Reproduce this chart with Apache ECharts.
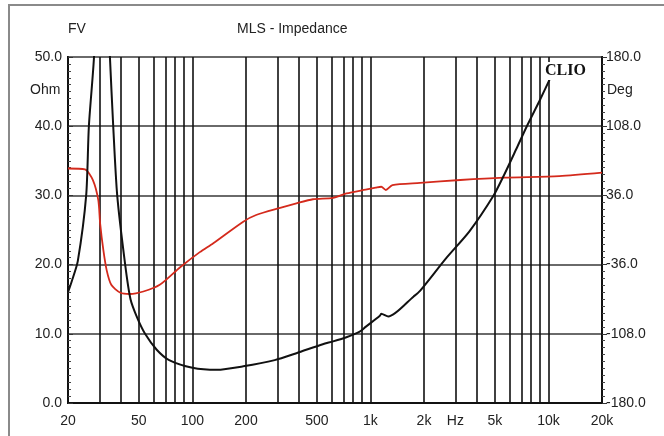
<!DOCTYPE html>
<html>
<head>
<meta charset="utf-8">
<script src="https://cdn.jsdelivr.net/npm/echarts@6/dist/echarts.min.js"></script>
<style>
html,body{margin:0;padding:0;background:#fff;}
#main{width:664px;height:436px;}
</style>
</head>
<body>
<div id="main"></div>
<script>
// impedance (Ohm) - black curve
var freqZ = [20, 21, 22.7, 25.3, 26.2, 28, 29.5, 31, 32.5, 34.4, 35.9, 37.8, 41.9, 44.9, 49, 54.2, 63, 74, 100, 137, 193, 290, 384, 540, 617, 733, 870, 940, 1130, 1150, 1260, 1750, 1900, 2680, 3600, 4900, 5600, 6600, 7600, 9000, 10400];
var impZ = [16, 17.6, 20.5, 30, 40, 50, 65, 72, 65, 50, 40, 30, 20, 15, 12.3, 10, 7.7, 6.2, 5.1, 4.8, 5.3, 6.2, 7.2, 8.5, 8.9, 9.5, 10.3, 11, 12.6, 12.9, 12.5, 15.4, 16.2, 21, 24.8, 29.9, 32.8, 36.7, 40.1, 43.9, 47.3];

// phase (Deg) - red curve
var freqP = [20, 24.9, 27.6, 29.6, 30.3, 31.6, 33.0, 35.0, 39.2, 44.5, 53, 65.5, 85, 110, 131, 193, 228, 311, 384, 475, 617, 733, 940, 1070, 1150, 1220, 1330, 1900, 3200, 5600, 11500, 20000];
var phaseP = [64, 63, 52, 31, 7, -21, -42, -57, -65, -66.6, -64, -57, -39, -23, -13.7, 8.7, 15.6, 23, 27.7, 32, 33.5, 38, 42, 44, 45, 41.6, 46.8, 49, 52, 54.4, 56, 59.6];

// grid / label frequencies
var gridFreqs = [30, 40, 50, 60, 70, 80, 90, 100, 200, 300, 400, 500, 600, 700, 800, 900, 1000, 2000, 3000, 4000, 5000, 6000, 7000, 8000, 9000, 10000];
var labelFreqs = [20, 50, 100, 200, 500, 1000, 2000, 3000, 5000, 10000, 20000];
var labelTexts = ['20', '50', '100', '200', '500', '1k', '2k', 'Hz', '5k', '10k', '20k'];

function lg(f){ return Math.log10(f); }
function pairs(xs, ys){
    var out = [];
    for(var i = 0; i < xs.length; i++){
        out.push([lg(xs[i]), ys[i]]);
    }
    return out;
}

var chart = echarts.init(document.getElementById('main'));
var font = 'Liberation Sans, Arial, sans-serif';

var option = {
    backgroundColor: '#fff',
    animation: false,
    grid: {left: 68, right: 62, top: 57, bottom: 33, show: true, borderColor: '#111', borderWidth: 2, backgroundColor: 'transparent'},
    xAxis: {
        type: 'value',
        min: lg(20),
        max: lg(20000),
        axisLine: {show: true, lineStyle: {color: '#111', width: 2}},
        axisTick: {show: false},
        splitLine: {show: false},
        axisLabel: {
            customValues: labelFreqs.map(lg),
            margin: 11,
            color: '#222',
            fontSize: 14,
            fontFamily: font,
            showMinLabel: true,
            showMaxLabel: true,
            formatter: function(v){
                var best = 0, d = 1e9;
                for(var i = 0; i < labelFreqs.length; i++){
                    var dd = Math.abs(lg(labelFreqs[i]) - v);
                    if(dd < d){ d = dd; best = i; }
                }
                return labelTexts[best];
            }
        }
    },
    yAxis: [
        {
            type: 'value', min: 0, max: 50, interval: 10, position: 'left',
            axisLine: {show: true, lineStyle: {color: '#111', width: 2}},
            axisTick: {show: true, inside: true, length: 5, lineStyle: {color: '#333'}},
            minorTick: {show: true, splitNumber: 10, length: 3, lineStyle: {color: '#444'}},
            splitLine: {show: true, lineStyle: {color: '#6a6a6a', width: 2}},
            axisLabel: {color: '#222', fontSize: 14, fontFamily: font, margin: 6,
                formatter: function(v){ return v.toFixed(1); }}
        },
        {
            type: 'value', min: -180, max: 180, interval: 72, position: 'right',
            axisLine: {show: true, lineStyle: {color: '#111', width: 2}},
            axisTick: {show: true, inside: false, length: 5, lineStyle: {color: '#333'}},
            minorTick: {show: true, splitNumber: 10, length: 3, lineStyle: {color: '#444'}},
            splitLine: {show: false},
            axisLabel: {color: '#222', fontSize: 14, fontFamily: font, margin: 4,
                formatter: function(v){ return v.toFixed(1); }}
        }
    ],
    graphic: [
        {type: 'rect', shape: {x: 9, y: 5, width: 700, height: 500}, style: {fill: 'none', stroke: '#8a8a8a', lineWidth: 2}, z: 0},
        {type: 'text', left: 68, top: 22, style: {text: 'FV', font: '14px ' + font, fill: '#222'}},
        {type: 'text', left: 237, top: 22, style: {text: 'MLS - Impedance', font: '14px ' + font, fill: '#222'}},
        {type: 'text', left: 30, top: 83, style: {text: 'Ohm', font: '14px ' + font, fill: '#222'}},
        {type: 'text', left: 607, top: 83, style: {text: 'Deg', font: '14px ' + font, fill: '#222'}},
        {type: 'text', left: 543, top: 62, z: 100, style: {text: 'CLIO', font: 'bold 16px "Liberation Serif", serif', fill: '#111', backgroundColor: '#fff', padding: [1, 2]}}
    ],
    series: [
        {
            type: 'line', name: 'grid', data: [], yAxisIndex: 0, silent: true,
            markLine: {
                silent: true, symbol: 'none', label: {show: false},
                lineStyle: {color: '#111', width: 1.6, type: 'solid'},
                data: gridFreqs.map(function(f){ return {xAxis: lg(f)}; })
            }
        },
        {
            type: 'line', name: 'Phase', yAxisIndex: 1, showSymbol: false, smooth: 0.25,
            lineStyle: {color: '#d42a1c', width: 1.8},
            data: pairs(freqP, phaseP), z: 5
        },
        {
            type: 'line', name: 'Impedance', yAxisIndex: 0, showSymbol: false, smooth: 0.25,
            lineStyle: {color: '#111', width: 2},
            data: pairs(freqZ, impZ), z: 6
        }
    ]
};
chart.setOption(option);
</script>
</body>
</html>
